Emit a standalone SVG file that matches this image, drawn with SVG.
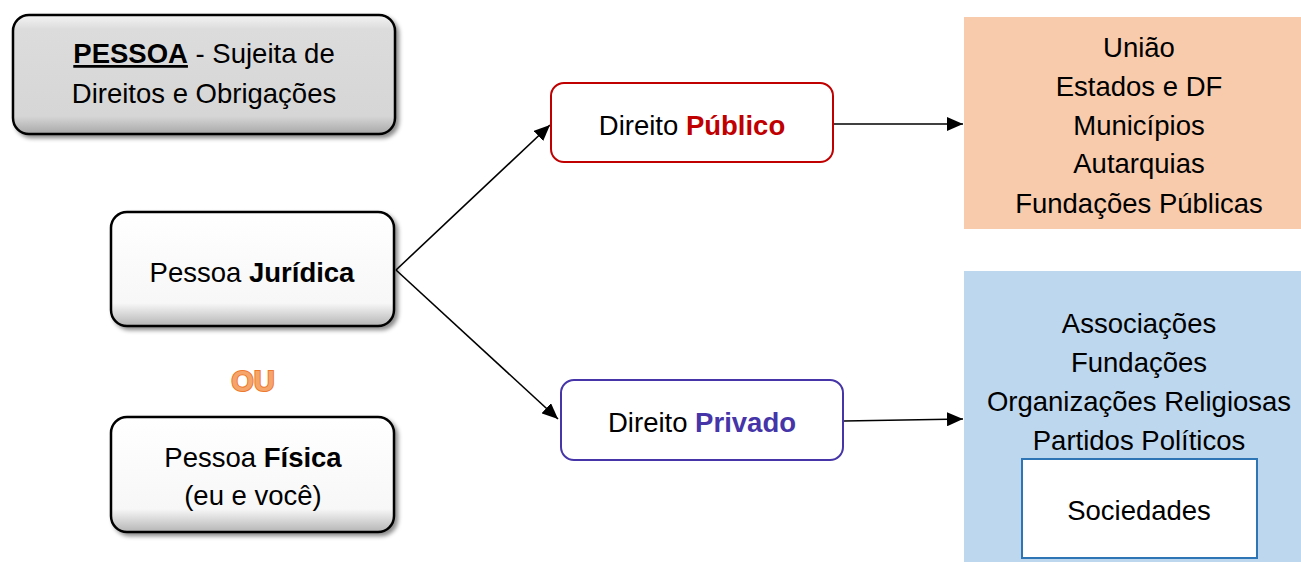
<svg xmlns="http://www.w3.org/2000/svg" width="1301" height="562" viewBox="0 0 1301 562">
<defs>
<style>
text{font-family:"Liberation Sans",Arial,sans-serif;font-size:27.5px;fill:#000;text-anchor:middle}
.b{font-weight:bold}
.bevel{stroke:#000;stroke-width:2.5}
.conn{stroke:#000;stroke-width:1.6;fill:none}
</style>
<linearGradient id="gGray" x1="0" y1="0" x2="0" y2="1">
<stop offset="0" stop-color="#f4f4f4"/><stop offset="0.12" stop-color="#dcdcdc"/><stop offset="0.85" stop-color="#d6d6d6"/><stop offset="1" stop-color="#a8a8a8"/>
</linearGradient>
<linearGradient id="gWhite" x1="0" y1="0" x2="0" y2="1">
<stop offset="0" stop-color="#ffffff"/><stop offset="0.8" stop-color="#f7f7f7"/><stop offset="1" stop-color="#b5b5b5"/>
</linearGradient>
<filter id="sh" x="-10%" y="-10%" width="125%" height="130%">
<feDropShadow dx="3" dy="3" stdDeviation="2" flood-color="#000" flood-opacity="0.45"/>
</filter>
<marker id="ah2" markerWidth="16" markerHeight="14" viewBox="0 0 16 14" refX="16" refY="7" orient="auto" markerUnits="userSpaceOnUse">
<path d="M0,0 L16,7 L0,14 Z" fill="#000"/>
</marker>
</defs>
<rect width="1301" height="562" fill="#fff"/>

<g id="connectors">
<line class="conn" x1="396" y1="270" x2="550" y2="125" marker-end="url(#ah2)"/>
<line class="conn" x1="396" y1="270" x2="558" y2="419" marker-end="url(#ah2)"/>
<line class="conn" x1="834" y1="124" x2="963" y2="124" marker-end="url(#ah2)"/>
<line class="conn" x1="844" y1="421" x2="963" y2="419" marker-end="url(#ah2)"/>
</g>

<g id="pessoa">
<rect x="13" y="15" width="382" height="119" rx="16" fill="url(#gGray)" class="bevel" filter="url(#sh)"/>
<text x="204" y="63"><tspan class="b" text-decoration="underline">PESSOA</tspan> - Sujeita de</text>
<text x="204" y="103">Direitos e Obrigações</text>
</g>

<g id="juridica">
<rect x="111" y="212" width="283" height="114" rx="16" fill="url(#gWhite)" class="bevel" filter="url(#sh)"/>
<text x="252" y="282">Pessoa <tspan class="b">Jurídica</tspan></text>
</g>

<g id="ou">
<text x="253" y="391" class="b" style="font-size:29px;fill:#F5A46A;stroke:#EE7A2E;stroke-width:2;paint-order:stroke">OU</text>
</g>

<g id="fisica">
<rect x="111" y="417" width="283" height="115" rx="16" fill="url(#gWhite)" class="bevel" filter="url(#sh)"/>
<text x="253" y="467">Pessoa <tspan class="b">Física</tspan></text>
<text x="253" y="505">(eu e você)</text>
</g>

<g id="publico">
<rect x="551" y="83" width="282" height="79" rx="13" fill="#fff" stroke="#C00000" stroke-width="2"/>
<text x="692" y="135">Direito <tspan class="b" style="fill:#C00000">Público</tspan></text>
</g>

<g id="privado">
<rect x="561" y="380" width="282" height="80" rx="13" fill="#fff" stroke="#4535A8" stroke-width="2"/>
<text x="702" y="432">Direito <tspan class="b" style="fill:#4535A8">Privado</tspan></text>
</g>

<g id="entes-publicos">
<rect x="964" y="17" width="337" height="212" fill="#F8CBAD"/>
<text x="1139" y="57">União</text>
<text x="1139" y="96">Estados e DF</text>
<text x="1139" y="135">Municípios</text>
<text x="1139" y="173">Autarquias</text>
<text x="1139" y="213">Fundações Públicas</text>
</g>

<g id="entes-privados">
<rect x="964" y="271" width="337" height="291" fill="#BDD7EE"/>
<text x="1139" y="333">Associações</text>
<text x="1139" y="372">Fundações</text>
<text x="1139" y="411">Organizações Religiosas</text>
<text x="1139" y="450">Partidos Políticos</text>
</g>

<g id="sociedades">
<rect x="1022" y="459" width="235" height="99" fill="#fff" stroke="#2E75B6" stroke-width="2"/>
<text x="1139" y="520">Sociedades</text>
</g>
</svg>
